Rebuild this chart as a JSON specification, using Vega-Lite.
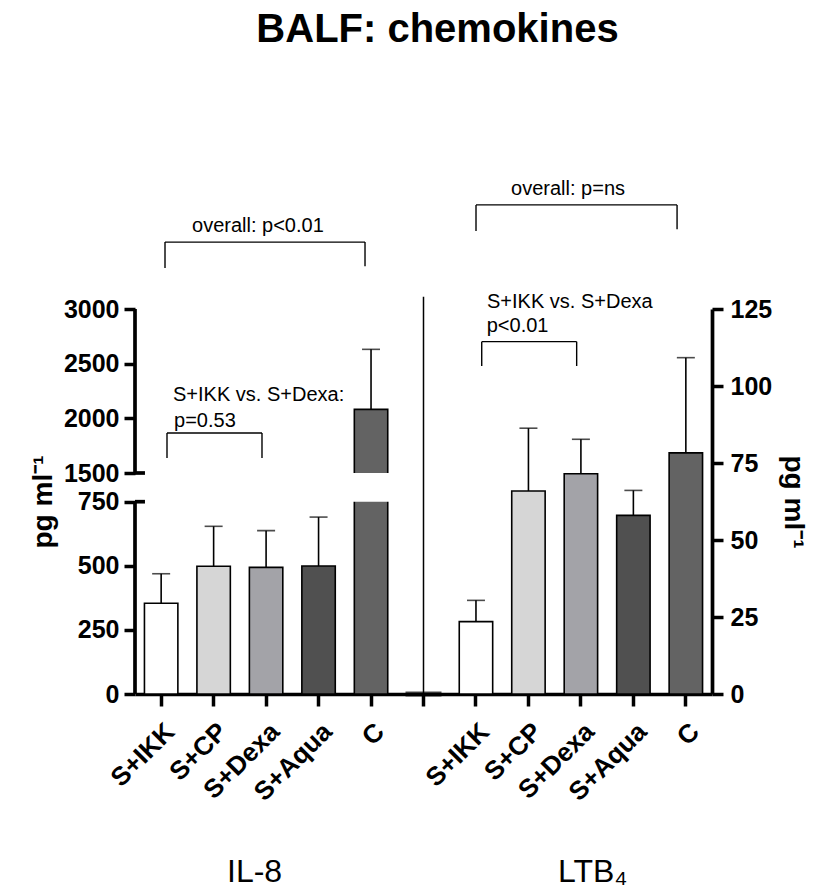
{
  "$schema": "https://vega.github.io/schema/vega-lite/v6.json",
  "width": 577,
  "height": 385,
  "autosize": {"type": "none"},
  "padding": {"left": 135, "top": 309, "right": 115, "bottom": 201},
  "title": {"text": "BALF: chemokines", "font": "Liberation Sans", "fontSize": 40, "fontWeight": "bold", "color": "black", "anchor": "middle", "frame": "group", "offset": 97, "baseline": "alphabetic", "dx": 14},
  "config": {"view": {"stroke": null}, "font": "Liberation Sans"},
  "datasets": {
    "il8": [
      {"pos": "IL-8|S+IKK", "treatment": "S+IKK", "mean": 354, "upper": 469},
      {"pos": "IL-8|S+CP", "treatment": "S+CP", "mean": 498, "upper": 654},
      {"pos": "IL-8|S+Dexa", "treatment": "S+Dexa", "mean": 494, "upper": 637},
      {"pos": "IL-8|S+Aqua", "treatment": "S+Aqua", "mean": 499, "upper": 690},
      {"pos": "IL-8|C", "treatment": "C", "mean": 2082, "upper": 2631}
    ],
    "ltb4": [
      {"pos": "LTB4|S+IKK", "treatment": "S+IKK", "mean": 23.5, "upper": 30.4},
      {"pos": "LTB4|S+CP", "treatment": "S+CP", "mean": 65.9, "upper": 86.3},
      {"pos": "LTB4|S+Dexa", "treatment": "S+Dexa", "mean": 71.5, "upper": 82.7},
      {"pos": "LTB4|S+Aqua", "treatment": "S+Aqua", "mean": 58.0, "upper": 66.1},
      {"pos": "LTB4|C", "treatment": "C", "mean": 78.3, "upper": 109.2}
    ],
    "sep": [{"pos": "gap", "base": 0, "top": 129}],
    "segL": [
      {"kind": "axis", "x": 0, "x2": 0, "y": 0, "y2": 750},
      {"kind": "axis", "x": 0, "x2": 0, "y": 1500, "y2": 3000},
      {"kind": "axis", "x": 0, "x2": 0.19, "y": 750, "y2": 750},
      {"kind": "axis", "x": 0, "x2": 0.19, "y": 1500, "y2": 1500},
      {"kind": "bracket", "x": 0.572, "x2": 4.385, "y": 3612, "y2": 3612},
      {"kind": "bracket", "x": 0.572, "x2": 0.572, "y": 3612, "y2": 3375},
      {"kind": "bracket", "x": 4.385, "x2": 4.385, "y": 3612, "y2": 3390},
      {"kind": "bracket", "x": 0.61, "x2": 2.421, "y": 1866, "y2": 1866},
      {"kind": "bracket", "x": 0.61, "x2": 0.61, "y": 1866, "y2": 1637},
      {"kind": "bracket", "x": 2.421, "x2": 2.421, "y": 1866, "y2": 1637}
    ],
    "txtL": [
      {"label": "overall: p<0.01", "x": 1.087, "y": 3704},
      {"label": "S+IKK vs. S+Dexa:", "x": 0.725, "y": 2158},
      {"label": "p=0.53", "x": 0.744, "y": 1920}
    ],
    "panelL": [{"label": "IL-8", "x": 1.754, "y": -733}],
    "segR": [
      {"x": 6.501, "x2": 10.334, "y": 158.8, "y2": 158.8},
      {"x": 6.501, "x2": 6.501, "y": 158.8, "y2": 150.3},
      {"x": 10.334, "x2": 10.334, "y": 158.8, "y2": 150.9},
      {"x": 6.61, "x2": 8.42, "y": 114.4, "y2": 114.4},
      {"x": 6.61, "x2": 6.61, "y": 114.4, "y2": 106.5},
      {"x": 8.42, "x2": 8.42, "y": 114.4, "y2": 106.5}
    ],
    "txtR": [
      {"label": "overall: p=ns", "x": 7.169, "y": 162},
      {"label": "S+IKK vs. S+Dexa", "x": 6.711, "y": 125.3},
      {"label": "p<0.01", "x": 6.705, "y": 117.5}
    ],
    "panelR": [{"label": "LTB₄", "x": 8.065, "y": -61}]
  },
  "resolve": {"scale": {"x": "independent", "y": "independent"}, "axis": {"x": "independent", "y": "independent"}},
  "layer": [
    {
      "data": {"name": "il8"},
      "layer": [
        {
          "mark": {"type": "bar", "stroke": "black", "strokeWidth": 1.6},
          "encoding": {
            "x": {"field": "pos", "type": "nominal", "sort": null,
              "scale": {"domain": ["IL-8|S+IKK", "IL-8|S+CP", "IL-8|S+Dexa", "IL-8|S+Aqua", "IL-8|C", "gap", "LTB4|S+IKK", "LTB4|S+CP", "LTB4|S+Dexa", "LTB4|S+Aqua", "LTB4|C"], "paddingInner": 0.363, "paddingOuter": 0.18},
              "axis": {"title": null, "labelExpr": "indexof(datum.label, '|') > 0 ? split(datum.label, '|')[1] : ''", "labelAngle": -45, "labelFontSize": 26, "labelFontWeight": "bold", "labelColor": "black", "labelPadding": 12, "tickSize": 12, "tickWidth": 3.5, "tickColor": "black", "domainWidth": 3.7, "domainColor": "black", "grid": false}},
            "y": {"field": "mean", "type": "quantitative",
              "scale": {"domain": [0, 750, 1500, 3000], "range": [385, 192.7, 164, 0], "nice": false, "zero": false},
              "axis": {"orient": "left", "values": [0, 250, 500, 750, 1500, 2000, 2500, 3000], "format": "d", "domain": false, "grid": false, "tickSize": 11, "tickWidth": 3.5, "tickColor": "black", "labelFontSize": 25, "labelFontWeight": "bold", "labelColor": "black", "labelPadding": 5, "labelOverlap": false, "title": "pg ml⁻¹", "titleFontSize": 28, "titleFontWeight": "bold", "titleColor": "black", "titlePadding": 6}},
            "fill": {"field": "treatment", "type": "nominal", "scale": {"domain": ["S+IKK", "S+CP", "S+Dexa", "S+Aqua", "C"], "range": ["#ffffff", "#d6d6d6", "#a3a3a8", "#505050", "#636363"]}, "legend": null}
          }
        },
        {
          "transform": [{"filter": "datum.mean > 1500"}],
          "mark": {"type": "bar", "fill": "white", "strokeWidth": 0, "width": {"band": 1.15}},
          "encoding": {
            "x": {"field": "pos", "type": "nominal", "sort": null},
            "y": {"datum": 750, "type": "quantitative"},
            "y2": {"datum": 1500}
          }
        },
        {
          "mark": {"type": "rule", "strokeWidth": 1.6, "color": "black"},
          "encoding": {
            "x": {"field": "pos", "type": "nominal", "sort": null},
            "y": {"field": "mean", "type": "quantitative"},
            "y2": {"field": "upper"}
          }
        },
        {
          "mark": {"type": "tick", "thickness": 1.6, "size": 18, "color": "black"},
          "encoding": {
            "x": {"field": "pos", "type": "nominal", "sort": null},
            "y": {"field": "upper", "type": "quantitative"}
          }
        }
      ]
    },
    {
      "data": {"name": "ltb4"},
      "layer": [
        {
          "mark": {"type": "bar", "stroke": "black", "strokeWidth": 1.6},
          "encoding": {
            "x": {"field": "pos", "type": "nominal", "sort": null,
              "scale": {"domain": ["IL-8|S+IKK", "IL-8|S+CP", "IL-8|S+Dexa", "IL-8|S+Aqua", "IL-8|C", "gap", "LTB4|S+IKK", "LTB4|S+CP", "LTB4|S+Dexa", "LTB4|S+Aqua", "LTB4|C"], "paddingInner": 0.363, "paddingOuter": 0.18},
              "axis": null},
            "y": {"field": "mean", "type": "quantitative",
              "scale": {"domain": [0, 125], "nice": false, "zero": false},
              "axis": {"orient": "right", "values": [0, 25, 50, 75, 100, 125], "format": "d", "domain": true, "domainWidth": 3.7, "domainColor": "black", "grid": false, "tickSize": 11, "tickWidth": 3.5, "tickColor": "black", "labelFontSize": 25, "labelFontWeight": "bold", "labelColor": "black", "labelPadding": 7, "labelOverlap": false, "title": "pg ml⁻¹", "titleFontSize": 28, "titleFontWeight": "bold", "titleColor": "black", "titlePadding": 7}},
            "fill": {"field": "treatment", "type": "nominal", "scale": {"domain": ["S+IKK", "S+CP", "S+Dexa", "S+Aqua", "C"], "range": ["#ffffff", "#d6d6d6", "#a3a3a8", "#505050", "#636363"]}, "legend": null}
          }
        },
        {
          "mark": {"type": "rule", "strokeWidth": 1.6, "color": "black"},
          "encoding": {
            "x": {"field": "pos", "type": "nominal", "sort": null},
            "y": {"field": "mean", "type": "quantitative"},
            "y2": {"field": "upper"}
          }
        },
        {
          "mark": {"type": "tick", "thickness": 1.6, "size": 18, "color": "black"},
          "encoding": {
            "x": {"field": "pos", "type": "nominal", "sort": null},
            "y": {"field": "upper", "type": "quantitative"}
          }
        },
        {
          "data": {"name": "sep"},
          "mark": {"type": "rule", "strokeWidth": 1.5, "color": "black"},
          "encoding": {
            "x": {"field": "pos", "type": "nominal", "sort": null},
            "y": {"field": "base", "type": "quantitative"},
            "y2": {"field": "top"}
          }
        },
        {
          "data": {"name": "sep"},
          "mark": {"type": "tick", "thickness": 5, "size": 36, "color": "black"},
          "encoding": {
            "x": {"field": "pos", "type": "nominal", "sort": null},
            "y": {"field": "base", "type": "quantitative"}
          }
        }
      ]
    },
    {
      "layer": [
        {
          "data": {"name": "segL"},
          "transform": [{"filter": "datum.kind == 'axis'"}],
          "mark": {"type": "rule", "strokeWidth": 3.7, "color": "black"},
          "encoding": {
            "x": {"field": "x", "type": "quantitative", "scale": {"domain": [0, 11], "nice": false, "zero": false}, "axis": null},
            "x2": {"field": "x2"},
            "y": {"field": "y", "type": "quantitative", "scale": {"domain": [0, 750, 1500, 3000], "range": [385, 192.7, 164, 0], "nice": false, "zero": false}, "axis": null},
            "y2": {"field": "y2"}
          }
        },
        {
          "data": {"name": "segL"},
          "transform": [{"filter": "datum.kind == 'bracket'"}],
          "mark": {"type": "rule", "strokeWidth": 1.4, "color": "black"},
          "encoding": {
            "x": {"field": "x", "type": "quantitative"},
            "x2": {"field": "x2"},
            "y": {"field": "y", "type": "quantitative"},
            "y2": {"field": "y2"}
          }
        },
        {
          "data": {"name": "txtL"},
          "mark": {"type": "text", "align": "left", "baseline": "alphabetic", "fontSize": 20, "font": "Liberation Sans", "color": "black"},
          "encoding": {
            "x": {"field": "x", "type": "quantitative"},
            "y": {"field": "y", "type": "quantitative"},
            "text": {"field": "label"}
          }
        },
        {
          "data": {"name": "panelL"},
          "mark": {"type": "text", "align": "left", "baseline": "alphabetic", "fontSize": 32, "font": "Liberation Sans", "color": "black"},
          "encoding": {
            "x": {"field": "x", "type": "quantitative"},
            "y": {"field": "y", "type": "quantitative"},
            "text": {"field": "label"}
          }
        }
      ]
    },
    {
      "layer": [
        {
          "data": {"name": "segR"},
          "mark": {"type": "rule", "strokeWidth": 1.4, "color": "black"},
          "encoding": {
            "x": {"field": "x", "type": "quantitative", "scale": {"domain": [0, 11], "nice": false, "zero": false}, "axis": null},
            "x2": {"field": "x2"},
            "y": {"field": "y", "type": "quantitative", "scale": {"domain": [0, 125], "nice": false, "zero": false}, "axis": null},
            "y2": {"field": "y2"}
          }
        },
        {
          "data": {"name": "txtR"},
          "mark": {"type": "text", "align": "left", "baseline": "alphabetic", "fontSize": 20, "font": "Liberation Sans", "color": "black"},
          "encoding": {
            "x": {"field": "x", "type": "quantitative"},
            "y": {"field": "y", "type": "quantitative"},
            "text": {"field": "label"}
          }
        },
        {
          "data": {"name": "panelR"},
          "mark": {"type": "text", "align": "left", "baseline": "alphabetic", "fontSize": 32, "font": "Liberation Sans", "color": "black"},
          "encoding": {
            "x": {"field": "x", "type": "quantitative"},
            "y": {"field": "y", "type": "quantitative"},
            "text": {"field": "label"}
          }
        }
      ]
    }
  ]
}
